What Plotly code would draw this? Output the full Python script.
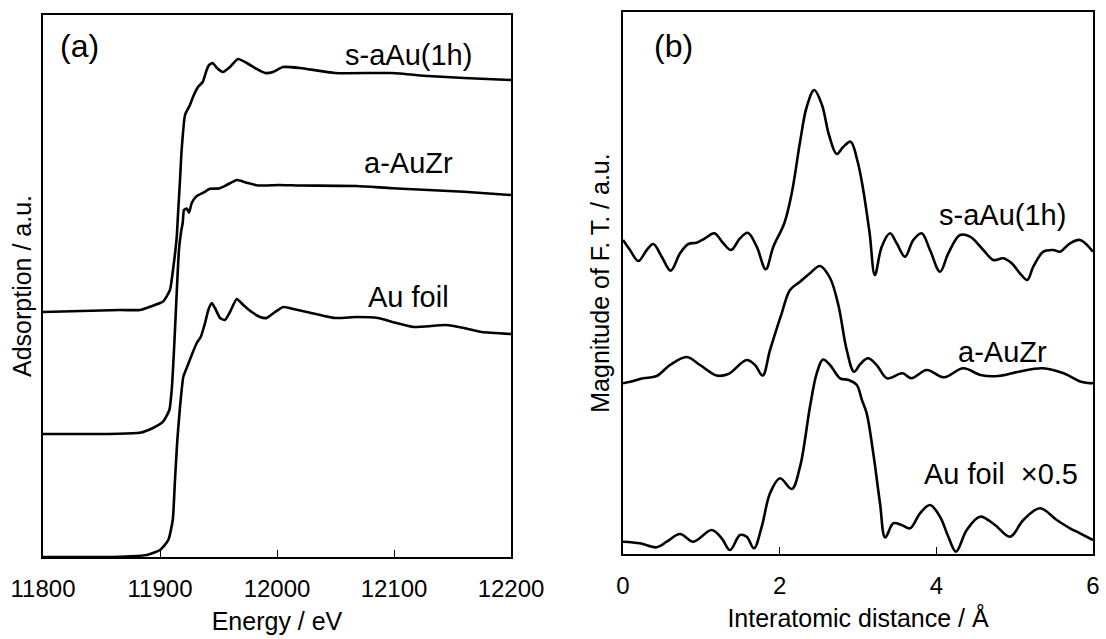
import plotly.graph_objects as go

# ---------------- Panel (a): XANES (energy in eV, absorption in a.u.) ----------------
s_aAu_E = [11800, 11865.8, 11882.9, 11891.5, 11902.6, 11908.5, 11911.1, 11914.3, 11915.6, 11917.1,
           11918.5, 11921.4, 11925.6, 11928.2, 11932.5, 11936.5, 11939.9, 11941.9, 11945.0, 11948.7,
           11953.8, 11959.8, 11966.7, 11974.1, 11982.6, 11989.7, 11996.6, 12005.1, 12019.7, 12049.6,
           12098.3, 12129.0, 12159.8, 12200]
s_aAu_mu = [245, 247, 247, 250.3, 255.5, 267, 287, 320, 347, 377,
            407, 442, 452, 460, 470, 475, 487, 492, 494, 489,
            485, 490, 498, 494, 488, 484, 485, 490, 489, 484,
            484, 481, 479, 477]

aAuZr_E = [11800, 11882.9, 11894.0, 11902.6, 11908.0, 11910.0, 11911.4, 11912.8, 11914.8, 11916.2,
           11918.0, 11919.4, 11920.5, 11922.8, 11924.8, 11927.1, 11931.4, 11937.0, 11942.7, 11950.4,
           11957.0, 11965.8, 11974.1, 11983.8, 12000.9, 12019.7, 12068.1, 12098.6, 12159.8, 12200]
aAuZr_mu = [123, 124.3, 129, 135.3, 147, 167, 194, 227, 277, 307,
            325, 334, 347, 348.5, 344.3, 354, 361, 364.3, 368.2, 368.5,
            372, 377, 374.3, 371.5, 372, 371.5, 371, 368.7, 365.3, 362]

foil_E = [11800, 11865.8, 11888.6, 11900.0, 11907.1, 11910.9, 11912.8, 11914.8, 11917.1, 11919.9,
          11922.8, 11927.1, 11931.4, 11934.8, 11938.5, 11941.3, 11944.2, 11947.0, 11951.3, 11955.6,
          11959.8, 11965.6, 11971.2, 11978.4, 11985.5, 11991.2, 11998.3, 12005.4, 12013.9, 12025.4,
          12049.8, 12068.1, 12086.3, 12098.6, 12117.0, 12144.4, 12159.8, 12175.0, 12200]
foil_mu = [0, 0.3, 2, 7, 17, 37, 77, 117, 150, 180,
           189, 202, 214, 220, 234, 247, 254, 249, 239, 237,
           245, 258, 252, 245, 240, 239, 245, 250, 248, 245,
           239, 240, 239, 235, 230, 232, 229, 225, 223]

# ---------------- Panel (b): |FT| (R in Angstrom, magnitude in a.u.) ----------------
ft_s_R = [0.0, 0.089, 0.195, 0.303, 0.387, 0.494, 0.609, 0.728, 0.834, 0.941,
          1.047, 1.166, 1.280, 1.379, 1.494, 1.592, 1.707, 1.822, 1.919, 2.059,
          2.154, 2.260, 2.345, 2.441, 2.540, 2.630, 2.728, 2.810, 2.906, 2.990,
          3.060, 3.148, 3.215, 3.303, 3.409, 3.494, 3.600, 3.706, 3.813, 3.919,
          4.047, 4.153, 4.302, 4.430, 4.600, 4.727, 4.855, 4.962, 5.068, 5.161,
          5.238, 5.366, 5.493, 5.579, 5.707, 5.834, 6.0]
ft_s_mag = [314, 304, 293, 304, 310, 297.3, 283.3, 300.7, 310, 311.3,
            315.7, 320.7, 310.7, 304, 315.7, 321.3, 307.3, 284.7, 307.3, 330.7,
            360.7, 412, 447, 464, 449, 419, 400, 407, 412.3, 394,
            367.3, 321, 279, 307.3, 320.7, 310.7, 297.3, 314, 320.7, 304,
            282.3, 300.7, 319, 317.3, 304, 294, 295.7, 290.7, 280.7, 274,
            287.3, 302.3, 304, 302.3, 310.7, 314, 302.3]

ft_z_R = [0.0, 0.131, 0.259, 0.430, 0.600, 0.813, 0.983, 1.196, 1.344, 1.579,
          1.685, 1.783, 1.877, 2.026, 2.132, 2.260, 2.387, 2.515, 2.643, 2.749,
          2.856, 2.949, 3.030, 3.127, 3.238, 3.370, 3.568, 3.679, 3.878, 4.099,
          4.343, 4.564, 4.785, 5.050, 5.359, 5.625, 5.847, 6.0]
ft_z_mag = [170.7, 173, 175.7, 178, 189, 197, 189, 178.5, 180, 194,
            189, 178.5, 204, 240.7, 264, 272.3, 280.7, 288, 276, 249,
            204, 182.3, 190, 195.7, 189, 175.7, 180.7, 175.7, 184, 176.7,
            185.7, 179, 178, 182.3, 185.7, 180.7, 172.3, 170.7]

ft_f_R = [0.0, 0.217, 0.430, 0.558, 0.728, 0.897, 1.132, 1.260, 1.366, 1.494,
          1.579, 1.672, 1.771, 1.877, 2.004, 2.154, 2.260, 2.387, 2.473, 2.553,
          2.643, 2.771, 2.880, 2.984, 3.050, 3.111, 3.195, 3.281, 3.347, 3.451,
          3.558, 3.664, 3.792, 3.919, 4.047, 4.153, 4.251, 4.388, 4.558, 4.749,
          4.941, 5.111, 5.324, 5.537, 5.707, 5.834, 6.0]
ft_f_mag = [12.3, 10.7, 6.7, 12.3, 20, 12.3, 24, 15.7, 4, 19,
            17.3, 5.7, 27.3, 60.7, 75.7, 65, 87.3, 147.3, 180.7, 194.5,
            189, 175.7, 174, 169, 154, 140.7, 100.7, 50.7, 16.5, 30.7,
            29, 25.7, 40.7, 49, 37.3, 17.3, 2.3, 24, 37.3, 29,
            17.3, 34, 45.7, 34, 25.7, 20.7, 14]

xa_ticks = [11800, 11900, 12000, 12100, 12200]
xa_ticktext = ["11800", "11900", "12000", "12100", "12200"]
xb_ticks = [0, 2, 4, 6]
xb_ticktext = ["0", "2", "4", "6"]

FONT = "Arial, Liberation Sans, sans-serif"
LINE = dict(color="black", width=2.6)

fig = go.Figure()
for xs, ys in [(s_aAu_E, s_aAu_mu), (aAuZr_E, aAuZr_mu), (foil_E, foil_mu)]:
    fig.add_trace(go.Scatter(x=xs, y=ys, mode="lines", line=dict(**LINE, shape="spline", smoothing=0.5),
                             xaxis="x", yaxis="y", showlegend=False, hoverinfo="skip"))
for xs, ys in [(ft_s_R, ft_s_mag), (ft_z_R, ft_z_mag), (ft_f_R, ft_f_mag)]:
    fig.add_trace(go.Scatter(x=xs, y=ys, mode="lines", line=dict(**LINE, shape="spline", smoothing=1.0),
                             xaxis="x2", yaxis="y2", showlegend=False, hoverinfo="skip"))

W, H = 1106, 639
common_x = dict(showline=True, linecolor="black", linewidth=1.6, mirror=True, ticks="inside",
                ticklen=7, tickwidth=1.4, tickcolor="black", showgrid=False, zeroline=False,
                automargin=False, tickmode="array",
                tickfont=dict(family=FONT, size=24, color="black"), ticklabelstandoff=9)
common_y = dict(showline=True, linecolor="black", linewidth=1.6, mirror=True, ticks="",
                showticklabels=False, showgrid=False, zeroline=False, automargin=False)

fig.update_layout(
    width=W, height=H, margin=dict(l=0, r=0, t=0, b=0),
    paper_bgcolor="white", plot_bgcolor="white",
    font=dict(family=FONT, color="black"),
    xaxis=dict(domain=[43 / W, 511 / W], range=[11800, 12200], tickvals=xa_ticks, ticktext=xa_ticktext,
               title=dict(text="Energy / eV", font=dict(size=25), standoff=12), anchor="y", **common_x),
    yaxis=dict(domain=[1 - 557 / H, 1 - 15 / H], range=[0, 542], anchor="x",
               title=dict(text="Adsorption / a.u.", font=dict(size=25), standoff=2), **common_y),
    xaxis2=dict(domain=[623 / W, 1093 / W], range=[0, 6], tickvals=xb_ticks, ticktext=xb_ticktext,
                title=dict(text="Interatomic distance / Å", font=dict(size=25), standoff=12), anchor="y2", **common_x),
    yaxis2=dict(domain=[1 - 554 / H, 1 - 12 / H], range=[0, 542], anchor="x2",
                title=dict(text="Magnitude of F. T. / a.u.", font=dict(size=25), standoff=4), **common_y),
)

ann_font = dict(family=FONT, size=29, color="black")
tag_font = dict(family=FONT, size=32, color="black")
labels = [
    ("x", "y", 11831.6, 511, "(a)", tag_font),
    ("x", "y", 12112, 502, "s-aAu(1h)", ann_font),
    ("x", "y", 12112, 394, "a-AuZr", ann_font),
    ("x", "y", 12112, 260, "Au foil", ann_font),
    ("x2", "y2", 0.64, 508, "(b)", tag_font),
    ("x2", "y2", 4.84, 339, "s-aAu(1h)", ann_font),
    ("x2", "y2", 4.84, 202, "a-AuZr", ann_font),
    ("x2", "y2", 4.83, 80, "Au foil  ×0.5", ann_font),
]
for xr, yr, xv, yv, t, f in labels:
    fig.add_annotation(xref=xr, yref=yr, x=xv, y=yv, text=t, showarrow=False,
                       xanchor="center", yanchor="middle", font=f)

fig.write_html("out.html")
